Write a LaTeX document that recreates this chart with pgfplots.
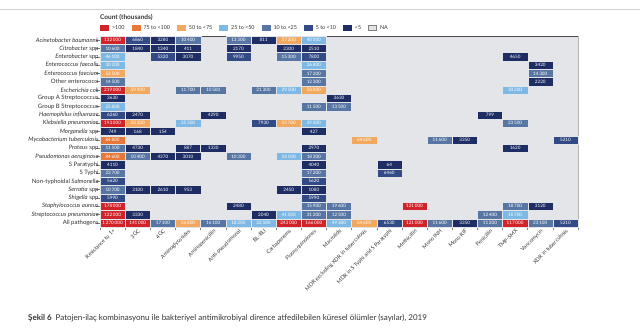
\documentclass[border=0pt]{standalone}
\usepackage{pgfplots}
\pgfplotsset{compat=1.18}
\usepackage{pgfplotstable}
\usepackage{fontspec}
\setmainfont{Lato}
\definecolor{cR}{HTML}{D1232A}
\definecolor{cO}{HTML}{E8773A}
\definecolor{cY}{HTML}{F2A85F}
\definecolor{cL}{HTML}{7DB9E4}
\definecolor{cM}{HTML}{5876A3}
\definecolor{cD}{HTML}{324B87}
\definecolor{cN}{HTML}{1E2D64}
\definecolor{cNA}{HTML}{E4E5E8}
\definecolor{txt}{HTML}{333333}
\pgfdeclareplotmark{cell}{\pgfpathrectangle{\pgfqpoint{-12.6bp}{-4.15bp}}{\pgfqpoint{25.2bp}{8.3bp}}\pgfusepathqfillstroke}
\pgfplotstableread{
c r v k
1 1 132000 R
2 1 6860 D
3 1 3280 N
4 1 10400 M
6 1 13300 M
7 1 811 N
8 1 57200 Y
9 1 40000 L
1 2 10600 M
2 2 1840 N
3 2 1340 N
4 2 411 N
6 2 2170 N
8 2 2300 N
9 2 2510 N
1 3 46100 L
3 3 5320 D
4 3 3070 N
6 3 9950 D
8 3 15300 M
9 3 7800 D
17 3 4650 N
1 4 30200 L
9 4 26800 L
18 4 3420 N
1 5 53500 Y
9 5 17200 M
18 5 14300 M
1 6 14500 M
9 6 12300 M
18 6 2220 N
1 7 219000 R
2 7 59900 Y
4 7 11700 M
5 7 10500 M
7 7 21300 M
8 7 29500 L
9 7 58000 Y
17 7 30200 L
1 8 3630 N
10 8 3630 N
1 9 25800 L
9 9 11500 M
10 9 13500 M
1 10 6260 D
2 10 2470 N
5 10 4290 N
16 10 799 N
1 11 193000 R
2 11 50100 Y
4 11 25300 L
7 11 7930 D
8 11 55700 Y
9 11 29000 L
17 11 23500 M
1 12 749 N
2 12 168 N
3 12 154 N
9 12 427 N
1 13 84800 O
11 13 64600 Y
14 13 11600 M
15 13 3350 N
19 13 5210 D
1 14 11500 M
2 14 4730 N
4 14 887 N
5 14 1330 N
9 14 2970 N
17 14 1620 N
1 15 84600 O
2 15 10400 M
3 15 4370 N
4 15 3010 N
6 15 10300 M
8 15 18100 L
9 15 18300 M
1 16 4110 N
9 16 4040 N
12 16 64 N
1 17 23700 M
9 17 17200 M
12 17 6460 D
1 18 5620 D
9 18 5620 D
1 19 10700 M
2 19 3100 N
3 19 2610 N
4 19 953 N
8 19 2450 N
9 19 1080 N
1 20 5990 D
9 20 5990 D
1 21 178000 R
6 21 2480 N
9 21 15900 M
10 21 19600 M
13 21 121000 R
17 21 18700 M
18 21 3120 N
1 22 122000 R
2 22 3330 N
7 22 2040 N
8 22 41500 L
9 22 31200 M
10 22 12500 M
16 22 12400 M
17 22 18700 L
1 23 1270000 R
2 23 141000 R
3 23 17100 M
4 23 56800 Y
5 23 16100 M
6 23 18200 L
7 23 32500 L
8 23 243000 R
9 23 166000 R
10 23 49300 L
11 23 64600 Y
12 23 6530 D
13 23 121000 R
14 23 11600 M
15 23 3350 N
16 23 11200 M
17 23 117000 R
18 23 23100 M
19 23 5210 D
}\cells
\begin{document}
\begin{tikzpicture}
\path[use as bounding box] (0,0) rectangle (640bp,329bp);
\draw[gray!35, line width=0.5bp] (0,320bp) -- (640bp,320bp);
\begin{axis}[at={(100bp,102bp)}, anchor=south west, scale only axis,
  width=478bp, height=191bp,
  xmin=0.5, xmax=19.5, ymin=0.5, ymax=23.5,
  axis background/.style={fill=cNA},
  axis line style={draw=gray!60, line width=0.4bp},
  xtick={1,...,19}, ytick={1,...,23},
  minor xtick={0.5,1.5,...,19.5}, minor ytick={1,...,23},
  major tick length=0bp, minor tick length=3.5bp, tick align=outside, tick pos=left,
  minor tick style={gray, line width=0.4bp},
  xticklabels={Resistance to 1+,3GC,4GC,Aminoglycosides,Aminopenicillin,Anti-pseudomonal,BL-BLI,Carbapenems,Fluoroquinolones,Macrolide,MDR excluding XDR in tuberculosis,MDR in S Typhi and S Paratyphi,Methicillin,Mono INH,Mono RIF,Penicillin,TMP-SMX,Vancomycin,XDR in tuberculosis},
  yticklabels={All pathogens,\textit{Streptococcus pneumoniae},\textit{Staphylococcus aureus},\textit{Shigella} spp,\textit{Serratia} spp,Non-typhoidal \textit{Salmonella},S Typhi,S Paratyphi,\textit{Pseudomonas aeruginosa},\textit{Proteus} spp,\textit{Mycobacterium tuberculosis},\textit{Morganella} spp,\textit{Klebsiella pneumoniae},\textit{Haemophilus influenzae},Group B Streptococcus,Group A Streptococcus,\textit{Escherichia coli},Other enterococci,\textit{Enterococcus faecium},\textit{Enterococcus faecalis},\textit{Enterobacter} spp,\textit{Citrobacter} spp,\textit{Acinetobacter baumannii}},
  xticklabel style={rotate=45, anchor=north east, font=\fontsize{5.4bp}{6bp}\selectfont, text=txt, inner sep=1bp},
  yticklabel style={font=\fontsize{6bp}{7bp}\selectfont, text=txt, inner sep=1.2bp},
  clip=false,
  legend style={at={(0,1)}, anchor=south west, yshift=3bp, xshift=0bp, draw=none, fill=none,
    font=\fontsize{5.4bp}{6.5bp}\selectfont, text=txt, inner sep=0pt,
    /tikz/every even column/.append style={column sep=5bp},
    /tikz/every odd column/.append style={column sep=1.5bp}},
  legend columns=-1,
  legend image code/.code={\draw[#1] (0bp,-2.2bp) rectangle (8bp,3.3bp);},
]
\addlegendimage{fill=cR, draw=cR}\addlegendentry{>100}
\addlegendimage{fill=cO, draw=cO}\addlegendentry{75 to <100}
\addlegendimage{fill=cY, draw=cY}\addlegendentry{50 to <75}
\addlegendimage{fill=cL, draw=cL}\addlegendentry{25 to <50}
\addlegendimage{fill=cM, draw=cM}\addlegendentry{10 to <25}
\addlegendimage{fill=cD, draw=cD}\addlegendentry{5 to <10}
\addlegendimage{fill=cN, draw=cN}\addlegendentry{<5}
\addlegendimage{fill=cNA, draw=gray}\addlegendentry{NA}
\addplot[forget plot, scatter, only marks, mark=cell,
  scatter src=explicit symbolic,
  scatter/classes={
    R={mark=cell, fill=cR, draw=cNA, line width=0.3bp},
    O={mark=cell, fill=cO, draw=cNA, line width=0.3bp},
    Y={mark=cell, fill=cY, draw=cNA, line width=0.3bp},
    L={mark=cell, fill=cL, draw=cNA, line width=0.3bp},
    M={mark=cell, fill=cM, draw=cNA, line width=0.3bp},
    D={mark=cell, fill=cD, draw=cNA, line width=0.3bp},
    N={mark=cell, fill=cN, draw=cNA, line width=0.3bp}},
] table[x=c, y expr=24-\thisrow{r}, meta=k]{\cells};
\addplot[forget plot, only marks, mark=none, point meta=explicit,
  nodes near coords={\pgfmathprintnumber[fixed,precision=0,1000 sep={\,},min exponent for 1000 sep=4,assume math mode=true]{\pgfplotspointmeta}},
  every node near coord/.append style={anchor=center, text=white, font=\fontsize{4.6bp}{5bp}\selectfont, inner sep=0pt},
] table[x=c, y expr=24-\thisrow{r}, meta=v]{\cells};
\draw[black!70, line width=0.6bp] (axis cs:0.5,23.5) -- (axis cs:19.5,23.5);
\end{axis}
\node[anchor=west, font=\bfseries\fontsize{6.5bp}{7.5bp}\selectfont, text=txt, inner sep=0pt] at (100bp,312bp) {Count (thousands)};
\node[anchor=west, font=\fontsize{8bp}{9bp}\selectfont, text=txt, inner sep=0pt] at (28bp,11bp) {\textbf{Şekil 6}\hspace{4bp}Patojen-ilaç kombinasyonu ile bakteriyel antimikrobiyal dirence atfedilebilen küresel ölümler (sayılar), 2019};
\end{tikzpicture}
\end{document}
